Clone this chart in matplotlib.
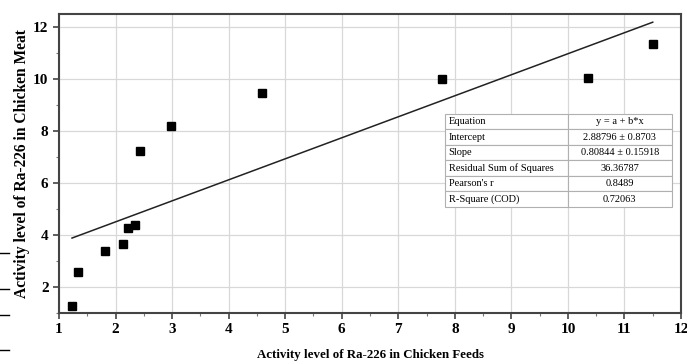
import numpy as np
import matplotlib.pyplot as plt
from matplotlib.lines import Line2D
from matplotlib.ticker import MultipleLocator

plt.rcParams["font.family"] = ["Liberation Serif", "DejaVu Serif"]

# activity levels
feeds = [1.23, 1.34, 1.81, 2.13, 2.22, 2.35, 2.43, 2.98, 4.59, 7.78, 10.35, 11.50]
meat = [1.27, 2.58, 3.38, 3.65, 4.27, 4.38, 7.23, 8.19, 9.46, 10.00, 10.04, 11.35]

# linear fit reported in the table
intercept = 2.88796
slope = 0.80844

table_rows = [
    ["Equation", "y = a + b*x"],
    ["Intercept", "2.88796 \u00b1 0.8703"],
    ["Slope", "0.80844 \u00b1 0.15918"],
    ["Residual Sum of Squares", "36.36787"],
    ["Pearson's r", "0.8489"],
    ["R-Square (COD)", "0.72063"],
]

fig = plt.figure(figsize=(6.87, 3.62), dpi=100)
ax = fig.add_axes([0.0859, 0.1354, 0.9054, 0.8259])

ax.grid(True, color="#d8d8d8", linewidth=0.9, zorder=0)
ax.set_axisbelow(True)

ax.plot(feeds, meat, "s", color="black", markersize=5.5, zorder=3)

fx = np.array([min(feeds), max(feeds)])
ax.plot(fx, intercept + slope * fx, color="#222222", linewidth=1.1, zorder=2)

ax.set_xlim(1, 12)
ax.set_ylim(1, 12.5)
ax.xaxis.set_major_locator(MultipleLocator(1))
ax.xaxis.set_minor_locator(MultipleLocator(0.5))
ax.yaxis.set_minor_locator(MultipleLocator(1))
ax.set_yticks([2, 4, 6, 8, 10, 12])

for s in ax.spines.values():
    s.set_color("#444444")
    s.set_linewidth(1.5)

ax.tick_params(which="major", direction="out", length=4, width=1.2, color="#444444",
               labelsize=11)
ax.tick_params(which="minor", direction="out", length=2.5, width=0.8, color="#777777")
for lab in ax.get_xticklabels() + ax.get_yticklabels():
    lab.set_fontweight("bold")

ax.set_xlabel("Activity level of Ra-226 in Chicken Feeds", fontsize=9.3, fontweight="bold",
              labelpad=9)
ax.set_ylabel("Activity level of Ra-226 in Chicken Meat", fontsize=11.2, fontweight="bold",
              labelpad=2)

tbl = ax.table(cellText=table_rows, colWidths=[0.54, 0.46], cellLoc="left",
               bbox=[0.6206, 0.3545, 0.3649, 0.3111], zorder=5)
tbl.auto_set_font_size(False)
tbl.set_fontsize(7.5)
for (r, c), cell in tbl.get_celld().items():
    cell.set_edgecolor("#b0b0b0")
    cell.set_linewidth(0.8)
    cell.set_facecolor("white")
    if c == 1:
        cell.get_text().set_horizontalalignment("center")
    cell.PAD = 0.03

# stray marks at left edge of the scan
for yp in [253, 289, 315, 350]:
    fig.add_artist(Line2D([0, 9 / 687], [1 - yp / 362, 1 - yp / 362], color="black",
                          linewidth=1.0, transform=fig.transFigure))

fig.savefig("out.png", dpi=100)
